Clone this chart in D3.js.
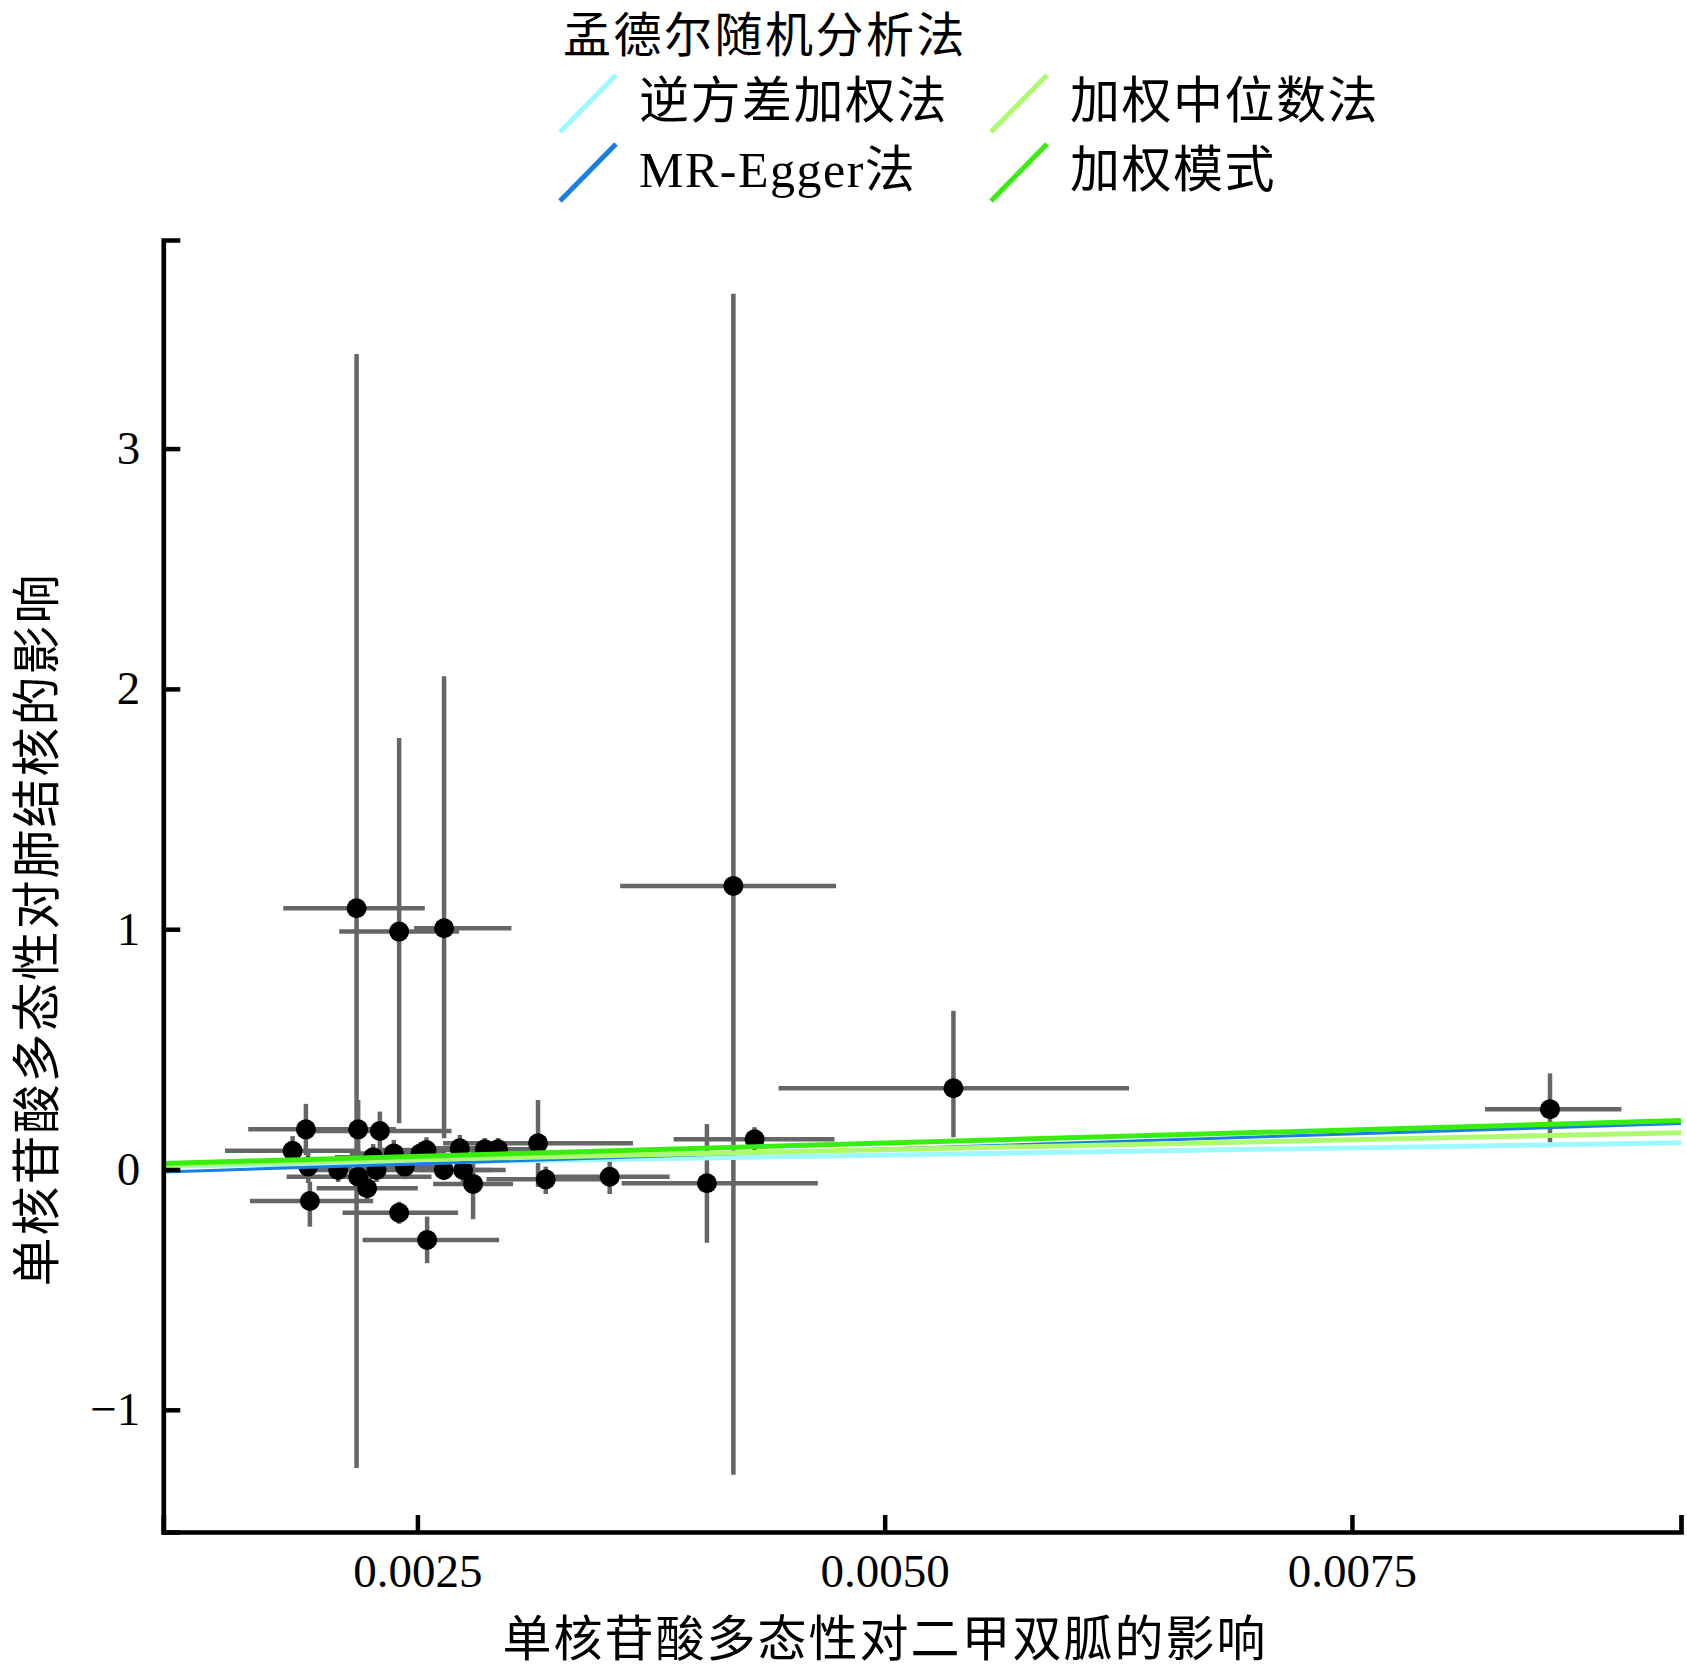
<!DOCTYPE html>
<html>
<head>
<meta charset="utf-8">
<script src="https://cdn.jsdelivr.net/npm/d3@7"></script>
<style>
  html, body { margin: 0; padding: 0; background: #fff; }
  svg { display: block; }
</style>
</head>
<body>
<svg id="chart" width="1687" height="1666"></svg>
<script>
// ---------------- data ----------------
const snpX   = [0.0021744,0.0024022,0.0026427,0.0041906,0.0053679,0.0085597,0.0040489,0.0043039,0.0035287,0.0031865,0.0031453,0.0019033,0.0021830,0.0022990,0.0018322,0.0019156,0.0020760,0.0022632,0.0022813,0.0023738,0.0024326,0.0025486,0.0025166,0.0026411,0.0027267,0.0027443,0.0027978,0.0028604,0.0029315,0.0021830,0.0022311,0.0019247,0.0024022,0.0025519];
const snpXLo = [0.0017820,0.0020814,0.0024824,0.0035848,0.0044322,0.0082122,0.0035928,0.0038708,0.0032079,0.0028694,0.0026374,0.0015948,0.0019782,0.0019156,0.0014703,0.0016841,0.0018713,0.0020584,0.0020851,0.0021386,0.0021920,0.0022990,0.0023792,0.0023792,0.0025128,0.0025128,0.0025839,0.0026198,0.0027000,0.0018001,0.0019605,0.0016039,0.0020995,0.0022065];
const snpXHi = [0.0025396,0.0027230,0.0030031,0.0047397,0.0063072,0.0089420,0.0046423,0.0047316,0.0038495,0.0035073,0.0036532,0.0022118,0.0023845,0.0026823,0.0021942,0.0021493,0.0022829,0.0024701,0.0024754,0.0026091,0.0026732,0.0027962,0.0026518,0.0029031,0.0029406,0.0029726,0.0030117,0.0031009,0.0031598,0.0025754,0.0025021,0.0022632,0.0027176,0.0029368];
const snpY   = [1.087,0.990,1.004,1.180,0.338,0.251,-0.057,0.126,-0.030,-0.041,0.109,0.167,0.167,0.160,0.078,0.012,-0.002,0.051,-0.002,0.067,0.012,0.081,0.067,-0.002,0.088,-0.002,-0.060,0.084,0.084,-0.030,-0.078,-0.131,-0.180,-0.293];
const snpYLo = [-1.242,0.192,0.130,-1.270,0.134,0.112,-0.305,0.077,-0.102,-0.102,-0.072,0.060,0.040,0.080,0.019,-0.056,-0.052,-0.006,-0.052,0.015,-0.040,0.027,0.019,-0.044,0.031,-0.052,-0.207,0.040,0.040,-0.106,-0.131,-0.238,-0.226,-0.390];
const snpYHi = [3.394,1.796,2.053,3.644,0.660,0.400,0.189,0.176,0.040,0.012,0.289,0.273,0.289,0.241,0.139,0.081,0.048,0.106,0.048,0.123,0.065,0.134,0.114,0.040,0.144,0.048,0.085,0.131,0.131,0.040,-0.027,-0.051,-0.134,-0.196];

const methodNames  = ["逆方差加权法", "MR-Egger法", "加权中位数法", "加权模式"];
const methodSlopes = [12.0, 24.9, 16.5, 22.0];
const methodIntercepts = [0, -0.0388, 0, 0];
const methodColors = ["#9DF8FF", "#1A7FE0", "#ADFA70", "#38EE0F"];
const methodWidths = [5, 3, 5, 5];

const xTicks = [0.0025, 0.0050, 0.0075];
const yTicks = [-1, 0, 1, 2, 3];
const xDomain = [0.0011404, 0.0092606];
const yDomain = [-1.5085, 3.868];

const legendTitle = "孟德尔随机分析法";
const xTitle = "单核苷酸多态性对二甲双胍的影响";
const yTitle = "单核苷酸多态性对肺结核的影响";

// ---------------- drawing ----------------
(function () {
const svg = d3.select("#chart");
const pL = 163.3, pR = 1681, pT = 240, pB = 1532;
const x = d3.scaleLinear().domain(xDomain).range([pL, pR]);
const y = d3.scaleLinear().domain(yDomain).range([pB, pT]);

const CJK = "'Noto Sans CJK SC', sans-serif";
const SERIF = "'Liberation Serif', 'Times New Roman', serif";

svg.append("defs").append("clipPath").attr("id", "plotclip")
  .append("rect").attr("x", pL).attr("y", pT).attr("width", pR - pL).attr("height", pB - pT);

const idx = d3.range(snpX.length);
const gBars = svg.append("g").attr("stroke", "#666666").attr("stroke-width", 4.5);
gBars.selectAll("line.v").data(idx).join("line").attr("class", "v")
  .attr("x1", i => x(snpX[i])).attr("x2", i => x(snpX[i]))
  .attr("y1", i => y(snpYLo[i])).attr("y2", i => y(snpYHi[i]));
gBars.selectAll("line.h").data(idx).join("line").attr("class", "h")
  .attr("x1", i => x(snpXLo[i])).attr("x2", i => x(snpXHi[i]))
  .attr("y1", i => y(snpY[i])).attr("y2", i => y(snpY[i]));

svg.append("g").selectAll("circle").data(idx).join("circle")
  .attr("cx", i => x(snpX[i])).attr("cy", i => y(snpY[i]))
  .attr("r", 10).attr("fill", "#000");

// regression lines
const gLines = svg.append("g").attr("clip-path", "url(#plotclip)");
[0, 1, 2, 3].forEach(m => {
  const f = v => methodIntercepts[m] + methodSlopes[m] * v;
  gLines.append("line")
    .attr("x1", x(xDomain[0])).attr("y1", y(f(xDomain[0])))
    .attr("x2", x(xDomain[1])).attr("y2", y(f(xDomain[1])))
    .attr("stroke", methodColors[m]).attr("stroke-width", methodWidths[m]);
});

// axes
const xAxis = d3.axisBottom(x).tickValues(xTicks).tickFormat(d3.format(".4f"))
  .tickSize(-17).tickSizeOuter(-17).tickPadding(22);
const yAxis = d3.axisLeft(y).tickValues(yTicks).tickFormat(d3.format("d"))
  .tickSize(-17).tickSizeOuter(-17).tickPadding(23);

const gx = svg.append("g").attr("transform", `translate(0,${pB})`).call(xAxis);
const gy = svg.append("g").attr("transform", `translate(${pL},0)`).call(yAxis);
[gx, gy].forEach(g => {
  g.select(".domain").attr("stroke", "#000").attr("stroke-width", 4.7);
  g.selectAll(".tick line").attr("stroke", "#000").attr("stroke-width", 4.5);
  g.selectAll(".tick text").attr("fill", "#000").style("font-family", SERIF).style("font-size", "47px");
});

// axis titles
svg.append("text").attr("x", 885).attr("y", 1634).attr("text-anchor", "middle")
  .attr("dominant-baseline", "central")
  .style("font-family", CJK).style("font-size", "49px").style("letter-spacing", "2px")
  .attr("fill", "#000").text(xTitle);
svg.append("text").attr("transform", "translate(32,929.6) rotate(-90)").attr("text-anchor", "middle")
  .attr("dominant-baseline", "central")
  .style("font-family", CJK).style("font-size", "49px").style("letter-spacing", "2px")
  .attr("fill", "#000").text(yTitle);

// legend
svg.append("text").attr("x", 563).attr("y", 31).attr("dominant-baseline", "central")
  .style("font-family", CJK).style("font-size", "48px").style("letter-spacing", "2.5px")
  .attr("fill", "#000").text(legendTitle);

const colX = [560, 991];
const rowY = [101, 170];
methodNames.forEach((name, i) => {
  const col = Math.floor(i / 2), row = i % 2;
  const lx = colX[col], ly = rowY[row];
  svg.append("line")
    .attr("x1", lx).attr("y1", ly + 31).attr("x2", lx + 56).attr("y2", ly - 26)
    .attr("stroke", methodColors[i]).attr("stroke-width", 5);
  svg.append("text").attr("x", lx + 79).attr("y", ly).attr("dominant-baseline", "central")
    .style("font-family", SERIF + ", " + CJK).style("font-size", "50px").style("letter-spacing", "1.5px")
    .attr("fill", "#000").text(name);
});
})();
</script>
</body>
</html>
